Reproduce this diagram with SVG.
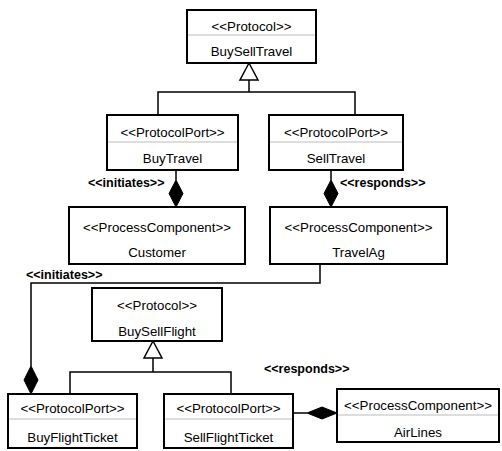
<svg xmlns="http://www.w3.org/2000/svg" width="502" height="451" viewBox="0 0 502 451">
<style>
.box{fill:#fff;stroke:#000;stroke-width:2}
.sep{stroke:#bbb;stroke-width:1}
.t{font-family:"Liberation Sans",Arial,sans-serif;font-size:13.3px;fill:#000;text-anchor:middle}
.lbl{font-family:"Liberation Sans",Arial,sans-serif;font-size:12.5px;font-weight:bold;fill:#000}
.ln{fill:none;stroke:#000;stroke-width:1.5}
.dia{fill:#000;stroke:#000;stroke-width:1}
.tri{fill:#fff;stroke:#000;stroke-width:1.5}
</style>
<rect width="502" height="451" fill="#fff"/>
<g id="connectors">
<polyline class="ln" points="249,80 249,92"/>
<polyline class="ln" points="158,115 158,92 355,92 355,115"/>
<polygon class="tri" points="249,63 240,80 258,80"/>
<line class="ln" x1="176" y1="170" x2="176" y2="180"/>
<polygon class="dia" points="176,180 183,193.5 176,207 169,193.5"/>
<line class="ln" x1="331" y1="170" x2="331" y2="180"/>
<polygon class="dia" points="331,180 338,193.5 331,207 324,193.5"/>
<polyline class="ln" points="320,264 320,283 31,283 31,366"/>
<polygon class="dia" points="31,366 38,380 31,394 24,380"/>
<polyline class="ln" points="153,358 153,372"/>
<polyline class="ln" points="70,394 70,372 231,372 231,394"/>
<polygon class="tri" points="153,341 144,358 162,358"/>
<line class="ln" x1="293" y1="413" x2="307" y2="413"/>
<polygon class="dia" points="307,413 322,407 337,413 322,419"/>
<text class="lbl" x="88" y="187">&lt;&lt;initiates&gt;&gt;</text>
<text class="lbl" x="340" y="187">&lt;&lt;responds&gt;&gt;</text>
<text class="lbl" x="26" y="279">&lt;&lt;initiates&gt;&gt;</text>
<text class="lbl" x="264" y="373">&lt;&lt;responds&gt;&gt;</text>
</g>
<g id="BuySellTravel">
<rect class="box" x="187" y="10" width="129" height="53"/>
<line class="sep" x1="188" y1="35" x2="315" y2="35"/>
<text class="t" x="251.5" y="31">&lt;&lt;Protocol&gt;&gt;</text>
<text class="t" x="251.5" y="56">BuySellTravel</text>
</g>
<g id="BuyTravel">
<rect class="box" x="107" y="115" width="131" height="55"/>
<line class="sep" x1="108" y1="142" x2="237" y2="142"/>
<text class="t" x="172.5" y="137">&lt;&lt;ProtocolPort&gt;&gt;</text>
<text class="t" x="172.5" y="163">BuyTravel</text>
</g>
<g id="SellTravel">
<rect class="box" x="269" y="115" width="134" height="55"/>
<line class="sep" x1="270" y1="142" x2="402" y2="142"/>
<text class="t" x="336" y="137">&lt;&lt;ProtocolPort&gt;&gt;</text>
<text class="t" x="336" y="163">SellTravel</text>
</g>
<g id="Customer">
<rect class="box" x="69" y="207" width="176" height="57"/>
<text class="t" x="157" y="232">&lt;&lt;ProcessComponent&gt;&gt;</text>
<text class="t" x="157" y="257">Customer</text>
</g>
<g id="TravelAg">
<rect class="box" x="270" y="207" width="177" height="57"/>
<text class="t" x="358.5" y="232">&lt;&lt;ProcessComponent&gt;&gt;</text>
<text class="t" x="358.5" y="257">TravelAg</text>
</g>
<g id="BuySellFlight">
<rect class="box" x="92" y="288" width="130" height="53"/>
<text class="t" x="157" y="310">&lt;&lt;Protocol&gt;&gt;</text>
<text class="t" x="157" y="336">BuySellFlight</text>
</g>
<g id="BuyFlightTicket">
<rect class="box" x="8" y="394" width="129" height="54"/>
<line class="sep" x1="9" y1="419" x2="136" y2="419"/>
<text class="t" x="72.5" y="413">&lt;&lt;ProtocolPort&gt;&gt;</text>
<text class="t" x="72.5" y="442">BuyFlightTicket</text>
</g>
<g id="SellFlightTicket">
<rect class="box" x="164" y="394" width="129" height="54"/>
<line class="sep" x1="165" y1="419" x2="292" y2="419"/>
<text class="t" x="228.5" y="413">&lt;&lt;ProtocolPort&gt;&gt;</text>
<text class="t" x="228.5" y="442">SellFlightTicket</text>
</g>
<g id="AirLines">
<rect class="box" x="337" y="389" width="162" height="53"/>
<line class="sep" x1="338" y1="415" x2="498" y2="415"/>
<text class="t" x="418" y="410">&lt;&lt;ProcessComponent&gt;&gt;</text>
<text class="t" x="418" y="437">AirLines</text>
</g>
</svg>
